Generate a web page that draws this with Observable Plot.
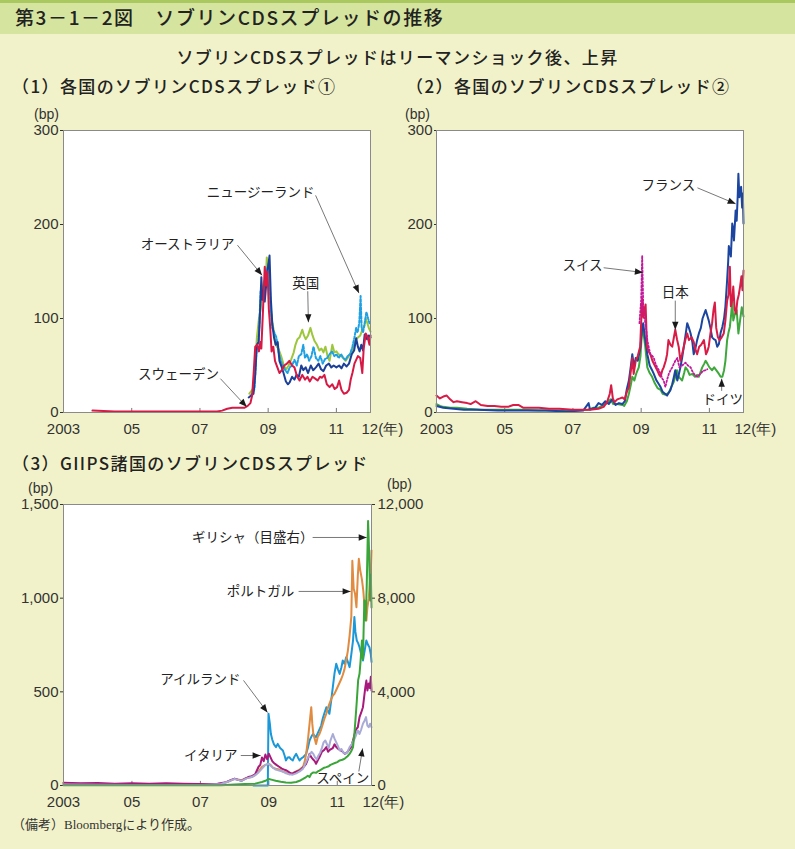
<!DOCTYPE html>
<html><head><meta charset="utf-8">
<script src="https://cdn.jsdelivr.net/npm/d3@7"></script>
<script src="https://cdn.jsdelivr.net/npm/@observablehq/plot@0.6"></script>
<style>
body{margin:0;background:#f1f2c9;}
#page{position:relative;width:795px;height:849px;background:#f1f2c9;overflow:hidden;font-family:"Noto Sans CJK JP",sans-serif;color:#222;}
.abs{position:absolute;white-space:nowrap;line-height:1;}
#band{position:absolute;left:0;top:0;width:795px;height:34px;background:#d5e49e;border-top:3px solid #a9c85f;box-sizing:border-box;}
.bp{font-family:"Liberation Sans",sans-serif;font-size:14px;color:#333;}
.ptitle{font-size:17px;font-weight:500;letter-spacing:1.4px;}
</style></head><body><div id="page">
<div id="band"></div>
<div class="abs" style="left:15px;top:7px;font-size:19px;font-weight:500;letter-spacing:1.6px;">第3－1－2図　ソブリンCDSスプレッドの推移</div>
<div class="abs ptitle" style="left:0;width:795px;text-align:center;top:48px;">ソブリンCDSスプレッドはリーマンショック後、上昇</div>
<div class="abs ptitle" style="left:12px;top:77px;">（1）各国のソブリンCDSスプレッド①</div>
<div class="abs ptitle" style="left:406px;top:77px;">（2）各国のソブリンCDSスプレッド②</div>
<div class="abs ptitle" style="left:12px;top:454px;">（3）GIIPS諸国のソブリンCDSスプレッド</div>
<div class="abs bp" style="left:34px;top:107px;">(bp)</div>
<div class="abs bp" style="left:405px;top:107px;">(bp)</div>
<div class="abs bp" style="left:28px;top:481px;">(bp)</div>
<div class="abs bp" style="left:387px;top:477px;">(bp)</div>
<div class="abs" style="left:12px;top:818px;font-size:13px;font-family:'Liberation Serif','Noto Sans CJK JP',serif;color:#333;">（備考）Bloombergにより作成。</div>
<div id="p1" class="abs" style="left:0;top:100px;"></div>
<div id="p2" class="abs" style="left:400px;top:100px;"></div>
<div id="p3" class="abs" style="left:0;top:470px;"></div>
</div>
<script>
// ---------- data (decimal year, bp) ----------
const xTicks = [2003, 2005, 2007, 2009, 2011];
const xTickLabels = ["2003", "05", "07", "09", "11"];
const xLastTick = [2012];
const xLastLabel = ["12(年)"];
const yTicks12 = [0, 100, 200, 300];
const yTicks3 = [0, 500, 1000, 1500];
const greeceRatio = 8; // right axis 0-12,000 vs left 0-1,500

const sweden = [[2003.85,2],[2004.5,1],[2005.5,1],[2006.5,1],[2007.5,1],[2007.65,2],[2007.8,4],[2007.95,5],[2008.3,5],[2008.4,7],[2008.48,10],[2008.53,18],[2008.58,45],[2008.62,70],[2008.68,72],[2008.73,65],[2008.77,75],[2008.8,68],[2008.85,110],[2008.9,155],[2008.94,135],[2008.98,150],[2009.02,110],[2009.06,90],[2009.1,65],[2009.15,70],[2009.2,55],[2009.27,48],[2009.33,42],[2009.4,45],[2009.47,50],[2009.55,52],[2009.62,55],[2009.7,50],[2009.77,48],[2009.85,38],[2009.92,34],[2010.0,40],[2010.08,35],[2010.15,38],[2010.22,33],[2010.3,38],[2010.38,36],[2010.45,34],[2010.52,38],[2010.58,37],[2010.65,40],[2010.72,30],[2010.8,27],[2010.88,30],[2010.95,25],[2011.02,27],[2011.08,34],[2011.15,24],[2011.22,20],[2011.3,21],[2011.37,24],[2011.42,35],[2011.47,42],[2011.53,52],[2011.58,56],[2011.63,60],[2011.7,58],[2011.76,42],[2011.8,68],[2011.86,84],[2011.92,80],[2011.97,72],[2012.0,82]];
const australia = [[2008.43,16],[2008.5,18],[2008.57,20],[2008.62,40],[2008.67,72],[2008.72,75],[2008.75,95],[2008.8,144],[2008.83,120],[2008.87,130],[2008.9,118],[2008.94,135],[2008.98,150],[2009.04,167],[2009.08,120],[2009.12,95],[2009.17,80],[2009.22,72],[2009.28,75],[2009.33,55],[2009.4,48],[2009.45,42],[2009.52,33],[2009.58,30],[2009.63,32],[2009.7,38],[2009.77,35],[2009.83,40],[2009.9,38],[2009.97,50],[2010.03,45],[2010.1,48],[2010.17,42],[2010.25,50],[2010.32,45],[2010.4,48],[2010.48,52],[2010.55,46],[2010.62,44],[2010.7,50],[2010.78,52],[2010.85,48],[2010.92,50],[2011.0,48],[2011.08,50],[2011.15,47],[2011.22,52],[2011.3,49],[2011.37,52],[2011.45,62],[2011.52,66],[2011.58,79],[2011.63,70],[2011.68,65],[2011.73,72],[2011.78,66],[2011.83,83],[2011.9,78],[2011.95,82],[2012.0,80]];
const newZealand = [[2008.5,18],[2008.6,25],[2008.66,70],[2008.72,75],[2008.78,130],[2008.84,120],[2008.9,135],[2008.95,150],[2009.02,160],[2009.07,115],[2009.12,90],[2009.18,85],[2009.24,80],[2009.3,65],[2009.37,55],[2009.43,50],[2009.5,45],[2009.57,42],[2009.63,48],[2009.7,50],[2009.77,56],[2009.84,50],[2009.9,60],[2009.97,62],[2010.03,72],[2010.08,58],[2010.14,62],[2010.2,55],[2010.27,60],[2010.33,70],[2010.4,58],[2010.47,55],[2010.53,60],[2010.6,52],[2010.67,57],[2010.73,58],[2010.8,62],[2010.87,65],[2010.94,60],[2011.0,62],[2011.07,58],[2011.14,62],[2011.2,58],[2011.27,56],[2011.33,60],[2011.4,62],[2011.47,70],[2011.53,80],[2011.58,90],[2011.62,85],[2011.67,95],[2011.71,124],[2011.74,90],[2011.78,85],[2011.83,95],[2011.88,107],[2011.93,100],[2011.97,95],[2012.0,96]];
const uk = [[2008.45,20],[2008.55,25],[2008.6,40],[2008.67,80],[2008.73,100],[2008.78,110],[2008.83,130],[2008.88,140],[2008.92,135],[2008.96,165],[2009.0,150],[2009.05,125],[2009.1,100],[2009.16,88],[2009.22,72],[2009.3,68],[2009.38,60],[2009.46,50],[2009.53,46],[2009.6,50],[2009.67,56],[2009.75,64],[2009.8,72],[2009.86,78],[2009.92,80],[2010.0,88],[2010.05,82],[2010.1,78],[2010.17,82],[2010.24,90],[2010.3,82],[2010.36,76],[2010.43,72],[2010.5,66],[2010.56,68],[2010.62,64],[2010.68,70],[2010.74,60],[2010.8,55],[2010.88,72],[2010.94,64],[2011.0,65],[2011.06,62],[2011.12,61],[2011.2,58],[2011.27,55],[2011.33,58],[2011.4,62],[2011.46,65],[2011.52,72],[2011.58,78],[2011.64,80],[2011.7,82],[2011.76,88],[2011.82,92],[2011.86,100],[2011.9,96],[2011.95,90],[2012.0,86]];

const france = [[2003.0,7],[2003.2,5],[2003.5,4],[2003.8,3],[2004.2,3],[2004.8,2],[2005.5,2],[2006.2,2],[2006.8,1],[2007.3,2],[2007.46,10],[2007.5,3],[2007.65,5],[2007.75,10],[2007.85,8],[2007.95,12],[2008.05,9],[2008.15,14],[2008.25,8],[2008.35,10],[2008.45,9],[2008.52,12],[2008.58,25],[2008.64,34],[2008.7,50],[2008.74,62],[2008.79,48],[2008.84,58],[2008.9,55],[2008.98,70],[2009.03,90],[2009.06,95],[2009.11,80],[2009.15,70],[2009.18,62],[2009.25,50],[2009.32,45],[2009.37,41],[2009.45,34],[2009.52,30],[2009.57,27],[2009.63,22],[2009.7,20],[2009.76,18],[2009.81,21],[2009.86,24],[2009.91,30],[2009.96,38],[2010.0,45],[2010.06,34],[2010.1,40],[2010.15,48],[2010.2,58],[2010.25,70],[2010.3,82],[2010.35,95],[2010.4,90],[2010.45,84],[2010.5,75],[2010.54,62],[2010.6,70],[2010.64,77],[2010.7,85],[2010.75,90],[2010.8,100],[2010.85,105],[2010.89,109],[2010.94,103],[2010.98,98],[2011.03,90],[2011.08,80],[2011.13,78],[2011.18,77],[2011.23,70],[2011.28,73],[2011.33,85],[2011.38,91],[2011.43,100],[2011.47,113],[2011.52,141],[2011.55,160],[2011.57,177],[2011.6,172],[2011.63,166],[2011.67,201],[2011.7,195],[2011.72,183],[2011.77,215],[2011.8,204],[2011.83,230],[2011.85,254],[2011.88,229],[2011.91,238],[2011.93,240],[2011.96,218],[2011.98,233],[2012.0,201]];
const japan = [[2003.0,18],[2003.1,15],[2003.2,17],[2003.3,18],[2003.4,14],[2003.5,11],[2003.6,12],[2003.75,11],[2003.9,10],[2004.0,9],[2004.15,12],[2004.3,8],[2004.5,7],[2004.7,7],[2004.9,6],[2005.1,6],[2005.25,8],[2005.4,8],[2005.55,5],[2005.8,5],[2006.0,5],[2006.3,4],[2006.6,4],[2007.0,3],[2007.5,3],[2007.75,4],[2007.9,6],[2008.0,11],[2008.08,20],[2008.12,29],[2008.17,15],[2008.22,11],[2008.3,14],[2008.38,15],[2008.45,16],[2008.52,14],[2008.58,22],[2008.64,27],[2008.7,45],[2008.74,58],[2008.78,41],[2008.84,55],[2008.9,60],[2008.97,70],[2009.03,121],[2009.07,101],[2009.1,110],[2009.13,115],[2009.17,70],[2009.22,65],[2009.27,62],[2009.33,55],[2009.4,50],[2009.47,45],[2009.53,40],[2009.57,38],[2009.62,45],[2009.66,48],[2009.72,55],[2009.76,62],[2009.8,77],[2009.86,72],[2009.91,70],[2009.96,80],[2010.0,88],[2010.05,78],[2010.1,70],[2010.15,55],[2010.2,62],[2010.25,70],[2010.3,78],[2010.35,84],[2010.4,77],[2010.48,80],[2010.54,75],[2010.6,66],[2010.64,62],[2010.7,70],[2010.76,72],[2010.84,77],[2010.9,62],[2010.94,65],[2010.98,70],[2011.03,84],[2011.08,95],[2011.12,109],[2011.16,117],[2011.2,90],[2011.25,80],[2011.3,77],[2011.36,80],[2011.42,84],[2011.47,98],[2011.52,119],[2011.56,125],[2011.6,155],[2011.63,113],[2011.67,120],[2011.7,134],[2011.74,110],[2011.78,105],[2011.82,119],[2011.86,125],[2011.9,134],[2011.94,145],[2011.97,130],[2012.0,151]];
const germany = [[2003.0,9],[2003.1,7],[2003.2,6],[2003.4,5],[2003.6,5],[2003.9,4],[2004.3,3],[2005.0,3],[2005.5,3],[2006.0,2],[2006.5,2],[2007.0,2],[2007.45,3],[2007.6,5],[2007.75,5],[2007.9,8],[2008.0,10],[2008.05,12],[2008.1,14],[2008.18,9],[2008.3,9],[2008.45,8],[2008.5,7],[2008.58,12],[2008.64,20],[2008.7,30],[2008.74,38],[2008.8,34],[2008.86,42],[2008.93,48],[2008.98,60],[2009.03,91],[2009.07,84],[2009.12,70],[2009.18,48],[2009.25,42],[2009.32,38],[2009.4,31],[2009.48,26],[2009.57,24],[2009.63,20],[2009.7,19],[2009.77,20],[2009.82,22],[2009.88,27],[2009.95,32],[2010.0,38],[2010.05,45],[2010.1,38],[2010.15,36],[2010.2,34],[2010.26,42],[2010.3,48],[2010.36,45],[2010.42,40],[2010.5,41],[2010.58,38],[2010.64,40],[2010.69,38],[2010.75,44],[2010.79,48],[2010.85,52],[2010.89,55],[2010.94,52],[2011.0,48],[2011.08,45],[2011.14,48],[2011.2,45],[2011.28,41],[2011.33,38],[2011.38,38],[2011.43,45],[2011.47,55],[2011.52,77],[2011.56,85],[2011.6,91],[2011.64,105],[2011.67,119],[2011.7,98],[2011.75,105],[2011.8,109],[2011.85,84],[2011.9,98],[2011.95,112],[2012.0,102]];
const switzerland = [[2008.95,95],[2009.0,120],[2009.03,167],[2009.06,115],[2009.1,100],[2009.14,91],[2009.18,77],[2009.23,68],[2009.27,62],[2009.33,60],[2009.37,58],[2009.42,52],[2009.47,48],[2009.52,45],[2009.57,41],[2009.62,36],[2009.66,34],[2009.71,27],[2009.76,35],[2009.81,41],[2009.86,45],[2009.91,48],[2009.96,52],[2010.0,55],[2010.06,58],[2010.12,48],[2010.2,50],[2010.3,53],[2010.37,50],[2010.45,48],[2010.5,44],[2010.55,41],[2010.64,38],[2010.7,40],[2010.74,41],[2010.8,44],[2010.89,45],[2010.94,46]];

const ireland = [[2008.55,0],[2008.97,0],[2008.99,383],[2009.03,330],[2009.06,275],[2009.1,245],[2009.15,220],[2009.21,205],[2009.26,222],[2009.33,200],[2009.41,187],[2009.46,160],[2009.5,134],[2009.55,150],[2009.6,151],[2009.65,140],[2009.7,134],[2009.75,155],[2009.8,169],[2009.85,150],[2009.9,134],[2009.95,145],[2010.0,151],[2010.05,160],[2010.09,169],[2010.14,200],[2010.19,240],[2010.24,260],[2010.29,275],[2010.34,265],[2010.38,258],[2010.43,280],[2010.48,300],[2010.53,320],[2010.58,360],[2010.63,390],[2010.68,418],[2010.72,400],[2010.77,383],[2010.82,450],[2010.87,525],[2010.92,600],[2010.97,650],[2011.02,620],[2011.07,596],[2011.12,630],[2011.16,667],[2011.21,650],[2011.26,685],[2011.31,660],[2011.36,632],[2011.41,700],[2011.46,774],[2011.5,899],[2011.53,820],[2011.57,774],[2011.61,760],[2011.65,738],[2011.7,700],[2011.75,667],[2011.8,720],[2011.85,774],[2011.9,750],[2011.94,738],[2011.98,700],[2012.0,660]];
const italy = [[2003.0,15],[2003.5,12],[2004.0,14],[2004.5,10],[2005.0,12],[2005.5,10],[2006.0,12],[2006.5,10],[2007.0,8],[2007.5,10],[2007.75,18],[2007.9,30],[2008.0,37],[2008.1,30],[2008.2,25],[2008.3,35],[2008.4,45],[2008.5,50],[2008.6,60],[2008.7,100],[2008.75,110],[2008.8,150],[2008.85,130],[2008.9,165],[2008.95,140],[2009.0,170],[2009.05,150],[2009.1,130],[2009.15,120],[2009.22,110],[2009.3,100],[2009.38,90],[2009.45,85],[2009.52,80],[2009.6,70],[2009.68,62],[2009.75,70],[2009.82,75],[2009.9,80],[2009.96,90],[2010.02,100],[2010.09,116],[2010.14,140],[2010.19,169],[2010.24,151],[2010.29,140],[2010.34,130],[2010.38,116],[2010.43,135],[2010.48,151],[2010.55,180],[2010.62,190],[2010.68,205],[2010.73,180],[2010.78,190],[2010.87,200],[2010.92,220],[2010.97,205],[2011.03,195],[2011.1,187],[2011.16,180],[2011.22,169],[2011.28,175],[2011.34,190],[2011.4,205],[2011.46,240],[2011.5,270],[2011.55,300],[2011.6,311],[2011.65,365],[2011.7,390],[2011.75,418],[2011.79,480],[2011.82,525],[2011.85,560],[2011.88,507],[2011.92,545],[2011.95,520],[2011.98,580],[2012.0,507]];
const portugal = [[2003.0,10],[2004.0,8],[2005.0,6],[2006.0,5],[2007.0,5],[2007.6,8],[2007.8,20],[2008.0,35],[2008.1,32],[2008.2,28],[2008.35,40],[2008.5,45],[2008.6,55],[2008.7,75],[2008.8,100],[2008.9,110],[2009.0,116],[2009.05,110],[2009.12,95],[2009.2,90],[2009.3,85],[2009.4,75],[2009.5,70],[2009.6,60],[2009.7,65],[2009.8,75],[2009.9,85],[2010.0,100],[2010.05,130],[2010.09,169],[2010.14,240],[2010.19,330],[2010.24,418],[2010.27,330],[2010.3,275],[2010.34,250],[2010.38,222],[2010.43,260],[2010.48,275],[2010.53,300],[2010.58,330],[2010.63,360],[2010.68,383],[2010.72,410],[2010.77,436],[2010.82,460],[2010.87,480],[2010.92,490],[2010.97,510],[2011.02,530],[2011.07,550],[2011.12,570],[2011.16,590],[2011.21,620],[2011.26,667],[2011.31,720],[2011.36,800],[2011.41,900],[2011.44,1200],[2011.48,1050],[2011.52,1023],[2011.56,952],[2011.6,1120],[2011.63,1210],[2011.67,1150],[2011.72,1100],[2011.76,1040],[2011.8,950],[2011.85,881],[2011.88,950],[2011.92,1000],[2011.95,1077],[2011.98,1150],[2012.0,1255]];
const spain = [[2003.0,5],[2004.0,4],[2005.0,3],[2006.0,3],[2007.0,3],[2007.6,8],[2007.8,20],[2008.0,35],[2008.1,30],[2008.2,25],[2008.35,38],[2008.5,45],[2008.6,55],[2008.7,70],[2008.8,90],[2008.9,110],[2009.0,116],[2009.05,105],[2009.12,95],[2009.2,85],[2009.3,80],[2009.4,75],[2009.5,65],[2009.6,60],[2009.7,58],[2009.8,65],[2009.9,75],[2010.0,90],[2010.05,110],[2010.1,130],[2010.15,150],[2010.2,165],[2010.25,180],[2010.3,169],[2010.35,150],[2010.4,140],[2010.45,160],[2010.5,175],[2010.55,200],[2010.6,230],[2010.65,240],[2010.7,220],[2010.75,200],[2010.8,240],[2010.87,275],[2010.92,250],[2010.97,230],[2011.02,210],[2011.07,187],[2011.12,195],[2011.18,175],[2011.24,169],[2011.3,180],[2011.36,205],[2011.42,220],[2011.48,240],[2011.53,260],[2011.6,294],[2011.65,275],[2011.7,300],[2011.75,330],[2011.8,347],[2011.84,365],[2011.88,320],[2011.92,311],[2011.96,330],[2012.0,311]];
const greece = [[2003.0,15],[2004.0,12],[2005.0,10],[2006.0,8],[2007.0,8],[2007.6,15],[2008.0,40],[2008.3,60],[2008.6,80],[2008.8,150],[2008.9,200],[2009.0,280],[2009.1,240],[2009.2,200],[2009.35,160],[2009.5,130],[2009.65,120],[2009.8,150],[2009.9,200],[2010.0,280],[2010.08,350],[2010.14,420],[2010.19,360],[2010.24,500],[2010.3,560],[2010.38,540],[2010.43,600],[2010.48,640],[2010.55,700],[2010.62,760],[2010.68,784],[2010.75,820],[2010.8,880],[2010.87,925],[2010.93,960],[2011.0,1000],[2011.07,1070],[2011.15,1100],[2011.22,1150],[2011.3,1250],[2011.36,1350],[2011.42,1500],[2011.46,1640],[2011.5,2200],[2011.53,2780],[2011.57,3600],[2011.61,4500],[2011.65,4770],[2011.68,5300],[2011.72,6190],[2011.75,5400],[2011.79,7900],[2011.83,7050],[2011.86,8500],[2011.9,11300],[2011.93,10000],[2011.96,7900],[2011.98,9000],[2012.0,7600]];

// annotations: label position and arrow (data coordinates)
const ann1 = [
  {label:"ニュージーランド", tx:2008.78, ty:234, x1:2010.39, y1:231, x2:2011.66, y2:127},
  {label:"オーストラリア", tx:2006.64, ty:179, x1:2008.10, y1:178, x2:2008.82, y2:146},
  {label:"英国", tx:2010.10, ty:137, x1:2010.16, y1:129, x2:2010.18, y2:96},
  {label:"スウェーデン", tx:2006.37, ty:40, x1:2007.60, y1:36, x2:2008.37, y2:6}
];
const ann2 = [
  {label:"フランス", tx:2009.80, ty:241, x1:2010.65, y1:239, x2:2011.77, y2:222},
  {label:"スイス", tx:2007.28, ty:156, x1:2007.90, y1:154, x2:2009.05, y2:149},
  {label:"日本", tx:2010.0, ty:128, x1:2010.0, y1:119, x2:2010.0, y2:88},
  {label:"ドイツ", tx:2011.39, ty:14, x1:2011.36, y1:23, x2:2011.36, y2:36}
];
const ann3 = [
  {label:"ギリシャ（目盛右）", tx:2008.53, ty:1324, x1:2010.28, y1:1324, x2:2011.86, y2:1324},
  {label:"ポルトガル", tx:2008.76, ty:1036, x1:2009.87, y1:1036, x2:2011.39, y2:1036},
  {label:"アイルランド", tx:2007.0, ty:566, x1:2008.26, y1:561, x2:2008.96, y2:390},
  {label:"イタリア", tx:2007.30, ty:160, x1:2008.18, y1:160, x2:2008.76, y2:160},
  {label:"スペイン", tx:2011.16, ty:37, x1:2011.63, y1:75, x2:2011.74, y2:198}
];

const toRows = arr => arr.map(([t, v]) => ({t, v}));
const AX = {fontFamily:"'Liberation Sans',sans-serif", fontSize:"15px", color:"#333", background:"transparent", overflow:"visible"};

function series(data, color, dash, w) {
  return Plot.line(toRows(data), {x:"t", y:"v", stroke:color, strokeWidth:w || 2, strokeDasharray:dash, strokeLinejoin:"round"});
}
// kx, ky: pixels per data unit (to orient the filled arrowheads)
function annMarks(ann, kx, ky) {
  const angle = d => Math.atan2((d.x2 - d.x1) * kx, (d.y2 - d.y1) * ky) * 180 / Math.PI;
  return [
    Plot.link(ann, {x1:"x1", y1:"y1", x2:"x2", y2:"y2", stroke:"#555", strokeWidth:0.8}),
    Plot.vector(ann, {x:"x2", y:"y2", rotate:angle, length:8, r:3.2, shape:"spike", anchor:"end", fill:"#1a1a1a", stroke:null}),
    Plot.text(ann, {x:"tx", y:"ty", text:"label", fontSize:13.5, fill:"#222", fontFamily:"'Noto Sans CJK JP',sans-serif"})
  ];
}
function xAxisMarks(yTickLen) {
  return [
    Plot.axisX({ticks:xTicks, tickFormat:(d)=>xTickLabels[xTicks.indexOf(d)], tickSize:0, tickPadding:11, label:null}),
    Plot.ruleX(xTicks.slice(1), {y1:0, y2:yTickLen, stroke:"#777", strokeWidth:1}),
    Plot.text(xLastTick.map((x,i)=>({x, s:xLastLabel[i]})), {x:"x", y:()=>0, text:"s", textAnchor:"start", dx:-9, dy:17, fontSize:15})
  ];
}

function panel(opts) {
  const pw = opts.width - opts.ml - opts.mr, ph = opts.height - opts.mt - opts.mb;
  const kx = pw / 9, ky = ph / opts.yDomain[1];
  return Plot.plot({
    width: opts.width, height: opts.height,
    marginLeft: opts.ml, marginRight: opts.mr, marginTop: opts.mt, marginBottom: opts.mb,
    style: AX,
    x: {domain:[2003, 2012], axis:null},
    y: {domain: opts.yDomain, axis:null},
    marks: [
      Plot.frame({fill:"white", stroke:null}),
      ...opts.axes,
      ...opts.lines,
      Plot.frame({stroke:"#8a8a8a", strokeWidth:1}),
      ...annMarks(opts.ann, kx, ky)
    ]
  });
}

const p1 = panel({
  width:400, height:340, ml:63, mr:30, mt:30, mb:28, yDomain:[0,300],
  axes:[
    Plot.axisY({ticks:yTicks12, tickSize:3, tickPadding:2, label:null}),
    ...xAxisMarks(4.3)
  ],
  lines:[series(uk,"#9dc63c"), series(newZealand,"#1ea0e2","2.5,1.8"), series(australia,"#1c3f98"), series(sweden,"#d61a45")],
  ann: ann1
});
document.getElementById("p1").appendChild(p1);

const p2 = panel({
  width:395, height:340, ml:36, mr:52, mt:30, mb:28, yDomain:[0,300],
  axes:[
    Plot.axisY({ticks:yTicks12, tickSize:2, tickPadding:2, label:null}),
    ...xAxisMarks(4.3)
  ],
  lines:[series(germany,"#3fa83c"), series(france,"#1c45a0"), series(japan,"#d81c46"), series(switzerland,"#c2189c","1.6,2",1.8)],
  ann: ann2
});
document.getElementById("p2").appendChild(p2);

const p3 = panel({
  width:430, height:340, ml:63, mr:59, mt:34, mb:25, yDomain:[0,1500],
  axes:[
    Plot.axisY({ticks:yTicks3, tickSize:3, tickPadding:2, tickFormat:d3.format(","), label:null}),
    Plot.axisY({anchor:"right", ticks:yTicks3, tickSize:3, tickPadding:3, tickFormat:d=>d3.format(",")(d*greeceRatio), label:null}),
    ...xAxisMarks(22)
  ],
  lines:[series(ireland,"#1b98d8"), series(portugal,"#e08b3f"), series(italy,"#a8197c"), series(spain,"#a8abd6"),
         Plot.line(toRows(greece), {x:"t", y:d=>d.v/greeceRatio, stroke:"#3aa63a", strokeWidth:2})],
  ann: ann3
});
document.getElementById("p3").appendChild(p3);
</script>
</body></html>
